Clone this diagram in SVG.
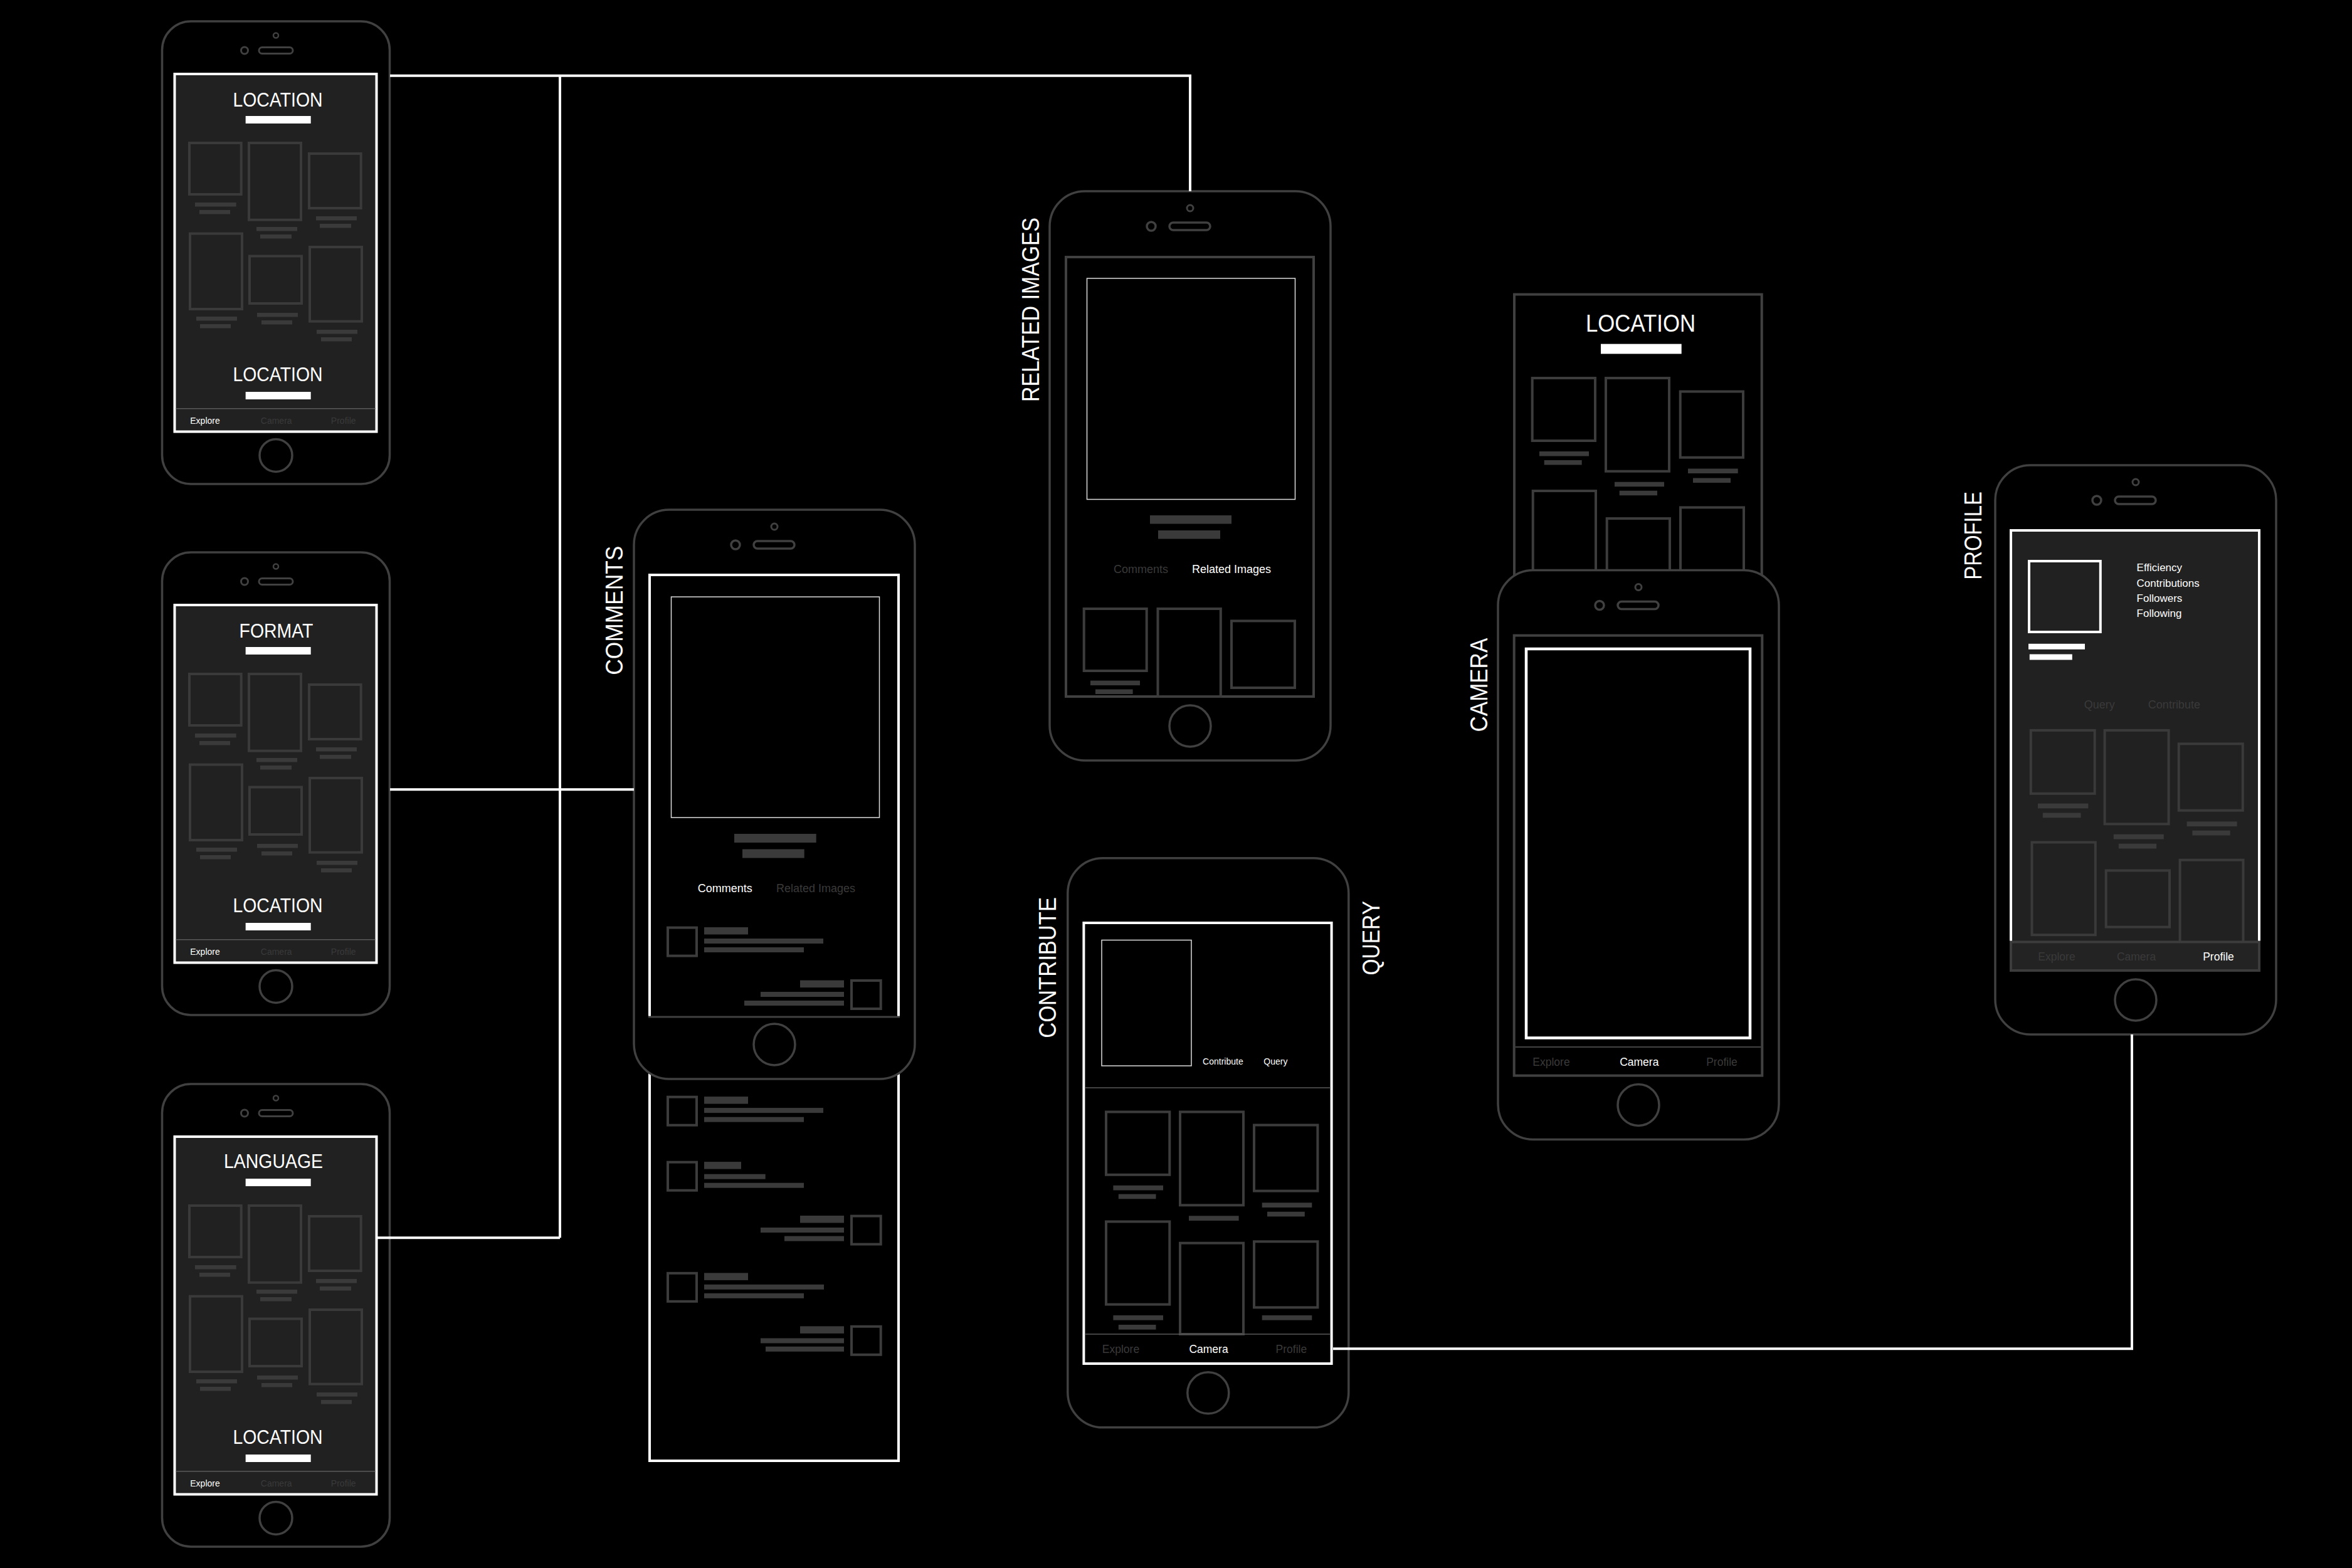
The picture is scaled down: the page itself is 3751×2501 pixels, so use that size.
<svg xmlns="http://www.w3.org/2000/svg" xmlns:xlink="http://www.w3.org/1999/xlink" width="3751" height="2501" viewBox="0 0 3751 2501">
<style>
text{font-family:"Liberation Sans",Arial,sans-serif;}
.body{fill:#000;stroke:#404040;stroke-width:3.5}
.ph{fill:none;stroke:#404040}
.scrS{fill:#212121;stroke:#fff;stroke-width:4}
.g{fill:none;stroke:#3a3a3a;stroke-width:4}
.gk{fill:none;stroke:#3c3c3c;stroke-width:4}
.b{fill:#3a3a3a}
.w{fill:#fff}
.dim{fill:#3a3a3a}
.ttl{font-size:31px;fill:#fff;text-anchor:middle}
.tabS{font-size:14px;text-anchor:middle}
.tabL{font-size:17.5px;text-anchor:middle}
.sub{font-size:18px;text-anchor:middle}
.lbl{font-size:38px;fill:#fff}
.conn{fill:none;stroke:#fff;stroke-width:4;stroke-linejoin:miter}
.tabline{stroke:#5a5a5a;stroke-width:1.5}
.photo{fill:none;stroke:#dcdcdc;stroke-width:1.5}
</style>
<defs>
<g id="bodyS">
<rect x="0" y="0" width="363" height="738" rx="46" class="body"/>
<circle cx="181.5" cy="22.5" r="4" class="ph" stroke-width="2.5"/>
<circle cx="131.5" cy="46.5" r="5.5" class="ph" stroke-width="3"/>
<rect x="154.5" y="41.5" width="54" height="10" rx="5" class="ph" stroke-width="3"/>
<circle cx="181.5" cy="692.4" r="26" class="ph" stroke-width="3.5"/>
</g>
<g id="screenS">
<rect x="20" y="84" width="322" height="570.5" class="scrS"/>
<rect x="43.5" y="194" width="82.7" height="82" class="g"/>
<rect x="138.5" y="194" width="83" height="122.7" class="g"/>
<rect x="234.5" y="211" width="82.7" height="87" class="g"/>
<rect x="44.5" y="338.6" width="83" height="120.4" class="g"/>
<rect x="139.5" y="374.5" width="83" height="75.5" class="g"/>
<rect x="235.5" y="360" width="83" height="118.6" class="g"/>
<rect x="52.5" y="289" width="65.7" height="6.5" class="b"/>
<rect x="59.5" y="301" width="49" height="6.5" class="b"/>
<rect x="150.5" y="328" width="65" height="6.5" class="b"/>
<rect x="156.5" y="340" width="50" height="6.5" class="b"/>
<rect x="245.5" y="311" width="65" height="6.5" class="b"/>
<rect x="251.5" y="323" width="50" height="6.5" class="b"/>
<rect x="54.5" y="471" width="65" height="6.5" class="b"/>
<rect x="60.5" y="483" width="49" height="6.5" class="b"/>
<rect x="151.5" y="465" width="65" height="6.5" class="b"/>
<rect x="158.5" y="477" width="49" height="6.5" class="b"/>
<rect x="246.5" y="492" width="65" height="6.5" class="b"/>
<rect x="253.5" y="504" width="49" height="6.5" class="b"/>
<rect x="133.2" y="151" width="104" height="12" class="w"/>
<rect x="133.2" y="591" width="104" height="12" class="w"/>
<line x1="22" y1="617.8" x2="340" y2="617.8" class="tabline"/>
</g>
<g id="bodyL">
<rect x="0" y="0" width="448" height="908" rx="56" class="body"/>
<circle cx="224" cy="27" r="5" class="ph" stroke-width="3"/>
<circle cx="162" cy="56" r="7" class="ph" stroke-width="3.5"/>
<rect x="191" y="50" width="65" height="12" rx="6" class="ph" stroke-width="3.5"/>
<circle cx="224" cy="853" r="33" class="ph" stroke-width="3.5"/>
</g>
<g id="bodyL2">
<rect x="0" y="0" width="448" height="908" rx="56" class="body"/>
<circle cx="224" cy="853" r="33" class="ph" stroke-width="3.5"/>
</g>
</defs>
<rect x="0" y="0" width="3751" height="2501" fill="#000"/>

<g id="explore-location" transform="translate(258.5,34)">
<use xlink:href="#bodyS"/>
<use xlink:href="#screenS"/>
<text class="ttl" x="184.5" y="135.5" textLength="143" lengthAdjust="spacingAndGlyphs">LOCATION</text>
<text class="ttl" x="184.5" y="574" textLength="143" lengthAdjust="spacingAndGlyphs">LOCATION</text>
<text class="tabS" x="68.5" y="642" fill="#fff">Explore</text>
<text class="tabS dim" x="182.2" y="642">Camera</text>
<text class="tabS dim" x="289.2" y="642">Profile</text>
</g>

<g id="explore-format" transform="translate(258.5,881)">
<use xlink:href="#bodyS"/>
<use xlink:href="#screenS"/>
<text class="ttl" x="182" y="135.5" textLength="118" lengthAdjust="spacingAndGlyphs">FORMAT</text>
<text class="ttl" x="184.5" y="574" textLength="143" lengthAdjust="spacingAndGlyphs">LOCATION</text>
<text class="tabS" x="68.5" y="642" fill="#fff">Explore</text>
<text class="tabS dim" x="182.2" y="642">Camera</text>
<text class="tabS dim" x="289.2" y="642">Profile</text>
</g>

<g id="explore-language" transform="translate(258.5,1729)">
<use xlink:href="#bodyS"/>
<use xlink:href="#screenS"/>
<text class="ttl" x="177.5" y="134" textLength="158" lengthAdjust="spacingAndGlyphs">LANGUAGE</text>
<text class="ttl" x="184.5" y="574" textLength="143" lengthAdjust="spacingAndGlyphs">LOCATION</text>
<text class="tabS" x="68.5" y="642" fill="#fff">Explore</text>
<text class="tabS dim" x="182.2" y="642">Camera</text>
<text class="tabS dim" x="289.2" y="642">Profile</text>
</g>

<g id="comments">
<rect x="1036" y="917" width="397" height="1413" fill="#000" stroke="#fff" stroke-width="4"/>
<g transform="translate(1063,1747.7)">
<rect x="2" y="2" width="46" height="45" class="gk"/>
<rect x="60" y="1.4" width="70" height="11.5" class="b"/>
<rect x="60" y="19.4" width="190" height="8" class="b"/>
<rect x="60" y="34" width="159" height="8" class="b"/>
</g>
<g transform="translate(1063,1851.7)">
<rect x="2" y="2" width="46" height="45" class="gk"/>
<rect x="60" y="1.4" width="59" height="11.5" class="b"/>
<rect x="60" y="21" width="97.7" height="8" class="b"/>
<rect x="60" y="35" width="159" height="8" class="b"/>
</g>
<g transform="translate(1356,1937.6)">
<rect x="2" y="2" width="46.7" height="45" class="gk"/>
<rect x="-80" y="1.4" width="70" height="11.5" class="b"/>
<rect x="-143" y="20.4" width="133" height="8" class="b"/>
<rect x="-105" y="34" width="95" height="8" class="b"/>
</g>
<g transform="translate(1063,2028.8)">
<rect x="2" y="2" width="46" height="45" class="gk"/>
<rect x="60" y="1.6" width="70" height="11.5" class="b"/>
<rect x="60" y="20" width="191" height="8" class="b"/>
<rect x="60" y="34" width="159" height="8" class="b"/>
</g>
<g transform="translate(1356,2113.8)">
<rect x="2" y="2" width="46.7" height="45" class="gk"/>
<rect x="-80" y="1.6" width="70" height="11.5" class="b"/>
<rect x="-143" y="20.7" width="133" height="8" class="b"/>
<rect x="-135" y="34" width="125" height="8" class="b"/>
</g>
<use xlink:href="#bodyL" x="1011" y="813"/>
<path d="M1036,1622 V917 H1433 V1622" fill="none" stroke="#fff" stroke-width="4"/>
<line x1="1034" y1="1622" x2="1435" y2="1622" stroke="#404040" stroke-width="3"/>
<rect x="1070.5" y="952" width="332" height="352" class="photo"/>
<rect x="1171" y="1330" width="130.7" height="14" class="b"/>
<rect x="1184" y="1354.5" width="98.7" height="14" class="b"/>
<text class="sub" x="1156.2" y="1423" fill="#fff">Comments</text>
<text class="sub dim" x="1301" y="1423">Related Images</text>
<g transform="translate(1063,1477.6)">
<rect x="2" y="2" width="46" height="45" class="gk"/>
<rect x="60" y="1.4" width="70" height="11.5" class="b"/>
<rect x="60" y="19.4" width="190" height="8" class="b"/>
<rect x="60" y="33.4" width="159" height="8" class="b"/>
</g>
<g transform="translate(1356,1562)">
<rect x="2" y="2" width="46.7" height="45" class="gk"/>
<rect x="-80" y="1.6" width="70" height="11.5" class="b"/>
<rect x="-143" y="20" width="133" height="8" class="b"/>
<rect x="-169" y="34" width="159" height="8" class="b"/>
</g>
<text class="lbl" transform="translate(993,1076.7) rotate(-90)" textLength="206" lengthAdjust="spacingAndGlyphs">COMMENTS</text>
</g>

<g id="related-images">
<use xlink:href="#bodyL" x="1674" y="305"/>
<rect x="1700" y="410" width="395" height="701" fill="none" stroke="#404040" stroke-width="4"/>
<rect x="1733.5" y="444" width="332" height="352.5" class="photo"/>
<rect x="1834" y="822" width="130" height="13.5" class="b"/>
<rect x="1847" y="846" width="99" height="13.5" class="b"/>
<text class="sub dim" x="1819.5" y="913.5">Comments</text>
<text class="sub" x="1964" y="913.5" fill="#fff">Related Images</text>
<rect x="1728.7" y="971" width="100" height="99" class="gk"/>
<rect x="1846.5" y="971" width="100.3" height="140" class="gk"/>
<rect x="1964" y="990.4" width="101" height="106.6" class="gk"/>
<rect x="1739" y="1085.6" width="79" height="7.5" class="b"/>
<rect x="1747" y="1099.5" width="59.6" height="7.5" class="b"/>
<text class="lbl" transform="translate(1657,641) rotate(-90)" textLength="294" lengthAdjust="spacingAndGlyphs">RELATED IMAGES</text>
</g>

<g id="camera">
<rect x="2415" y="469.6" width="394.7" height="600" fill="#000" stroke="#404040" stroke-width="4"/>
<text class="ttl" x="2616.5" y="529" style="font-size:38px" textLength="175" lengthAdjust="spacingAndGlyphs">LOCATION</text>
<rect x="2553" y="548.6" width="128.7" height="15.8" class="w"/>
<rect x="2443.7" y="603" width="100.3" height="100" class="gk"/>
<rect x="2561" y="603" width="101" height="148.7" class="gk"/>
<rect x="2679.7" y="624.5" width="100.3" height="105.2" class="gk"/>
<rect x="2444.7" y="783" width="100.3" height="200" class="gk"/>
<rect x="2562.7" y="827" width="100.3" height="200" class="gk"/>
<rect x="2680" y="809.4" width="101" height="200" class="gk"/>
<rect x="2455" y="720" width="79" height="7.5" class="b"/>
<rect x="2462.7" y="734" width="60" height="7.5" class="b"/>
<rect x="2575" y="768.7" width="79" height="7.5" class="b"/>
<rect x="2582.7" y="782.7" width="60.3" height="7.5" class="b"/>
<rect x="2692" y="747.5" width="79.7" height="7.5" class="b"/>
<rect x="2700" y="762.5" width="60" height="7.5" class="b"/>
<use xlink:href="#bodyL" x="2389" y="909.5"/>
<rect x="2414.7" y="1013.6" width="395.6" height="702" fill="none" stroke="#404040" stroke-width="4"/>
<rect x="2434" y="1035" width="357" height="620.5" fill="none" stroke="#fff" stroke-width="4.5"/>
<line x1="2416.7" y1="1670" x2="2808.3" y2="1670" class="tabline"/>
<text class="tabL dim" x="2474" y="1700">Explore</text>
<text class="tabL" x="2614.3" y="1700" fill="#fff">Camera</text>
<text class="tabL dim" x="2746" y="1700">Profile</text>
<text class="lbl" transform="translate(2371.7,1167.4) rotate(-90)" textLength="149.6" lengthAdjust="spacingAndGlyphs">CAMERA</text>
</g>

<g id="contribute">
<use xlink:href="#bodyL2" x="1702.8" y="1368.8"/>
<rect x="1728.4" y="1472" width="395.2" height="703" fill="#000" stroke="#fff" stroke-width="4"/>
<rect x="1757" y="1499.5" width="143" height="200.5" class="photo"/>
<text x="1950.4" y="1697.7" font-size="14" fill="#fff" text-anchor="middle">Contribute</text>
<text x="2034.4" y="1697.7" font-size="14" fill="#fff" text-anchor="middle">Query</text>
<line x1="1730.4" y1="1735" x2="2121.6" y2="1735" class="tabline"/>
<rect x="1764" y="1773.5" width="101.3" height="100.3" class="gk"/>
<rect x="1882" y="1773.5" width="101" height="148.8" class="gk"/>
<rect x="2000" y="1794.5" width="101.4" height="105.1" class="gk"/>
<rect x="1764" y="1948.5" width="101.3" height="132.1" class="gk"/>
<rect x="1882" y="1982.7" width="101" height="145.3" class="gk"/>
<rect x="2000" y="1980.3" width="101.4" height="105.1" class="gk"/>
<rect x="1775.4" y="1890.8" width="79.6" height="7.7" class="b"/>
<rect x="1783.8" y="1904.6" width="59.7" height="7.7" class="b"/>
<rect x="1896" y="1939.3" width="79.6" height="7.7" class="b"/>
<rect x="2012.7" y="1918.3" width="79.6" height="7.7" class="b"/>
<rect x="2021" y="1932.7" width="59.8" height="7.7" class="b"/>
<rect x="1775.4" y="2098" width="79.6" height="7.7" class="b"/>
<rect x="1783.8" y="2113" width="59.7" height="7.7" class="b"/>
<rect x="2012.7" y="2098" width="79.6" height="7.7" class="b"/>
<line x1="1730.4" y1="2128" x2="2121.6" y2="2128" class="tabline"/>
<text class="tabL dim" x="1787.5" y="2158">Explore</text>
<text class="tabL" x="1927.5" y="2158" fill="#fff">Camera</text>
<text class="tabL dim" x="2059.4" y="2158">Profile</text>
<text class="lbl" transform="translate(1684.3,1655.8) rotate(-90)" textLength="224.8" lengthAdjust="spacingAndGlyphs">CONTRIBUTE</text>
<text class="lbl" transform="translate(2199.5,1555.6) rotate(-90)" textLength="118.6" lengthAdjust="spacingAndGlyphs">QUERY</text>
</g>

<g id="profile">
<use xlink:href="#bodyL" x="3182" y="742"/>
<rect x="3207" y="846" width="396" height="702" fill="#212121" stroke="#fff" stroke-width="4"/>
<rect x="3236" y="895" width="113.8" height="113" fill="none" stroke="#fff" stroke-width="4"/>
<rect x="3235" y="1026.8" width="90" height="9" class="w"/>
<rect x="3236.8" y="1043.5" width="68" height="9" class="w"/>
<text x="3407.6" y="911" font-size="17" fill="#fff">Efficiency</text>
<text x="3407.6" y="935.6" font-size="17" fill="#fff">Contributions</text>
<text x="3407.6" y="959.6" font-size="17" fill="#fff">Followers</text>
<text x="3407.6" y="983.6" font-size="17" fill="#fff">Following</text>
<text class="sub dim" x="3348.2" y="1130">Query</text>
<text class="sub dim" x="3467.4" y="1130">Contribute</text>
<rect x="3238.8" y="1164.9" width="101.9" height="100.9" class="g"/>
<rect x="3356.6" y="1164.9" width="102" height="149.4" class="g"/>
<rect x="3474.8" y="1186.4" width="102" height="106.3" class="g"/>
<rect x="3240.5" y="1343.5" width="101.3" height="147.7" class="g"/>
<rect x="3358.7" y="1388.5" width="101.3" height="90.1" class="g"/>
<rect x="3476.6" y="1371.7" width="100.9" height="150" class="g"/>
<rect x="3250" y="1281.6" width="80.4" height="7.8" class="b"/>
<rect x="3257.8" y="1296.5" width="60.7" height="7.8" class="b"/>
<rect x="3370.8" y="1330.7" width="80" height="7.8" class="b"/>
<rect x="3378.8" y="1345.7" width="60.4" height="7.8" class="b"/>
<rect x="3487.6" y="1310.3" width="80" height="7.8" class="b"/>
<rect x="3496.4" y="1324.7" width="60.3" height="7.8" class="b"/>
<rect x="3207" y="1502.5" width="396" height="45.5" fill="#232323" stroke="#3c3c3c" stroke-width="4"/>
<text class="tabL dim" x="3280" y="1532">Explore</text>
<text class="tabL dim" x="3407" y="1532">Camera</text>
<text class="tabL" x="3538" y="1532" fill="#fff">Profile</text>
<text class="lbl" transform="translate(3159.6,924.8) rotate(-90)" textLength="140.8" lengthAdjust="spacingAndGlyphs">PROFILE</text>
</g>

<g id="connectors">
<polyline class="conn" points="622,120.7 1898,120.7 1898,305"/>
<line class="conn" x1="893" y1="120.7" x2="893" y2="1974.3"/>
<line class="conn" x1="622" y1="1259.3" x2="1011" y2="1259.3"/>
<line class="conn" x1="601" y1="1974.3" x2="893" y2="1974.3"/>
<polyline class="conn" points="2126,2151.3 3400,2151.3 3400,1650"/>
</g>
</svg>
